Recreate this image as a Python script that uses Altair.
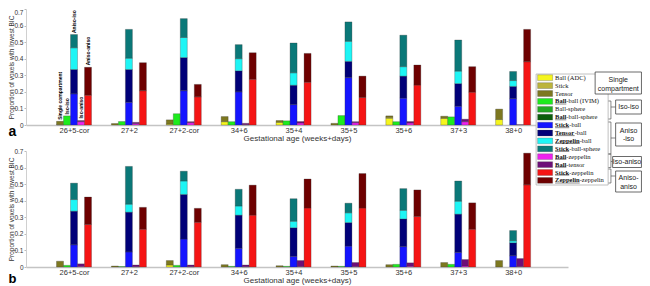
import altair as alt
import pandas as pd

# ---------------- data ----------------
ages = ["26+5-cor", "27+2", "27+2-cor", "34+6", "35+4", "35+5", "35+6", "37+3", "38+0"]

components = ["Ball (ADC)", "Stick", "Tensor",
              "Ball-ball (IVIM)", "Ball-sphere", "Ball-ball-sphere",
              "Stick-ball", "Tensor-ball", "Zeppelin-ball", "Stick-ball-sphere",
              "Ball-zeppelin", "Ball-tensor",
              "Stick-zeppelin", "Zeppelin-zeppelin"]
comp_colors = ["#f5f51e", "#bcb43c", "#7d7820",
               "#1eeb1e", "#22a822", "#0b5e0b",
               "#1414ff", "#000078", "#1ef5f5", "#0a7878",
               "#ee22ee", "#6e0f78",
               "#f51414", "#6e0000"]
slot_of = [0, 0, 0, 1, 1, 1, 2, 2, 2, 2, 3, 3, 4, 4]
bold_prefix = ["", "", "", "Ball", "", "Ball", "Stick", "Tensor", "Zeppelin", "Stick",
               "Ball", "Ball", "Stick", "Zeppelin"]
group_names = ["Single compartment", "Iso-iso", "Aniso-iso", "Iso-aniso", "Aniso-aniso"]

vals_a = {
    "Ball (ADC)":        [0, 0, 0.005, 0.020, 0.016, 0, 0.041, 0.040, 0.033],
    "Stick":             [0.002, 0, 0, 0, 0, 0, 0.006, 0, 0],
    "Tensor":            [0.020, 0.009, 0.026, 0.031, 0.011, 0.010, 0.008, 0.013, 0.063],
    "Ball-ball (IVIM)":  [0.055, 0.021, 0.068, 0.020, 0.025, 0.057, 0.020, 0.049, 0],
    "Ball-sphere":       [0, 0, 0, 0, 0, 0, 0, 0, 0],
    "Ball-ball-sphere":  [0, 0, 0, 0, 0, 0, 0, 0, 0],
    "Stick-ball":        [0.188, 0.137, 0.207, 0.200, 0.123, 0.286, 0.162, 0.113, 0.159],
    "Tensor-ball":       [0.147, 0.198, 0.200, 0.127, 0.117, 0.098, 0.133, 0.137, 0.074],
    "Zeppelin-ball":     [0.131, 0.068, 0.121, 0.073, 0.075, 0.121, 0.057, 0.075, 0.035],
    "Stick-ball-sphere": [0.080, 0.174, 0.114, 0.085, 0.180, 0.117, 0.190, 0.188, 0.055],
    "Ball-zeppelin":     [0.020, 0.008, 0.014, 0.002, 0.012, 0.014, 0.012, 0.020, 0],
    "Ball-tensor":       [0.007, 0.008, 0.006, 0.008, 0.009, 0.006, 0.009, 0.015, 0.002],
    "Stick-zeppelin":    [0.180, 0.207, 0.170, 0.276, 0.258, 0.166, 0.241, 0.198, 0.382],
    "Zeppelin-zeppelin": [0.168, 0.169, 0.075, 0.160, 0.174, 0.129, 0.121, 0.154, 0.195],
}
vals_b = {
    "Ball (ADC)":        [0, 0, 0.012, 0, 0, 0, 0, 0, 0],
    "Stick":             [0, 0, 0, 0, 0, 0, 0, 0, 0],
    "Tensor":            [0.035, 0.006, 0.027, 0.014, 0.008, 0.006, 0.014, 0.027, 0.039],
    "Ball-ball (IVIM)":  [0.010, 0.003, 0.010, 0.004, 0.004, 0.004, 0.016, 0.016, 0],
    "Ball-sphere":       [0, 0, 0, 0, 0, 0, 0, 0, 0],
    "Ball-ball-sphere":  [0, 0, 0, 0, 0, 0, 0, 0, 0],
    "Stick-ball":        [0.134, 0.091, 0.169, 0.113, 0.064, 0.126, 0.123, 0.088, 0.068],
    "Tensor-ball":       [0.203, 0.240, 0.269, 0.200, 0.173, 0.142, 0.167, 0.231, 0.078],
    "Zeppelin-ball":     [0.070, 0.048, 0.081, 0.055, 0.039, 0.059, 0.052, 0.078, 0.012],
    "Stick-ball-sphere": [0.099, 0.228, 0.059, 0.101, 0.136, 0.058, 0.131, 0.122, 0.062],
    "Ball-zeppelin":     [0.004, 0.002, 0.002, 0.002, 0.003, 0.003, 0.005, 0.006, 0.003],
    "Ball-tensor":       [0.015, 0.010, 0.010, 0.010, 0.036, 0.024, 0.020, 0.039, 0.048],
    "Stick-zeppelin":    [0.257, 0.228, 0.270, 0.313, 0.356, 0.356, 0.305, 0.228, 0.496],
    "Zeppelin-zeppelin": [0.165, 0.132, 0.084, 0.181, 0.175, 0.208, 0.160, 0.159, 0.191],
}

# ---------------- layout ----------------
L = 26                      # page x of the plot's left edge
REF_G1, REF_UNIT = 74.0, 54.875
XMAX, YMAX = 10.0, 0.7
unit = REF_UNIT
XMIN = 1 - (REF_G1 - L) / unit
W = int(round((XMAX - XMIN) * unit))
TOP = 8
H = 116
SPACING = 26
BW = 7.0 / unit
TOPB = TOP + H + SPACING


def xd(p):
    return XMIN + (p - L) / unit


def yd(p, top=TOP):
    return YMAX * (1 - (p - top) / H)


xs = alt.Scale(domain=[XMIN, XMAX], nice=False, zero=False)
ys = alt.Scale(domain=[0, YMAX], nice=False, zero=True)
label_js = "[" + ",".join("'%s'" % a for a in [""] + ages) + "][datum.value]"
xaxis = alt.Axis(values=list(range(1, 10)), labelExpr=label_js,
                 title="Gestational age (weeks+days)", grid=False, ticks=False,
                 domainColor="#c4c4c4", domainWidth=1.5, labelFontSize=7.5,
                 labelColor="#333", labelPadding=1.5, titleFontSize=8,
                 titleFontWeight="normal", titleColor="#333", titlePadding=0,
                 labelFont="Liberation Sans", titleFont="Liberation Sans")


def yaxis(flush_top):
    kw = {}
    if flush_top:
        kw["labelBaseline"] = {"condition": {"test": "datum.value > 0.65", "value": "top"},
                               "value": "middle"}
    return alt.Axis(values=[0, 0.1, 0.2, 0.3, 0.4, 0.5, 0.6, 0.7],
                    labelExpr="datum.value == 0 ? '0' : format(datum.value, '.1f')",
                    title="Proportion of voxels with lowest BIC", grid=False,
                    tickSize=2, tickColor="#bbb", domainColor="#d0d0d0",
                    labelFontSize=6.5, labelColor="#333", labelPadding=1,
                    titleFontSize=6.5, titleFontWeight="normal", titleColor="#333",
                    titleX=11.6 - L, titleBaseline="middle",
                    labelFont="Liberation Sans", titleFont="Liberation Sans", **kw)


color_enc = alt.Color("comp:N", scale=alt.Scale(domain=components, range=comp_colors),
                      legend=None)


def X(f, flush):
    return alt.X(f + ":Q", scale=xs, axis=xaxis)


def Y(f, flush):
    return alt.Y(f + ":Q", scale=ys, axis=yaxis(flush))


def bar_frame(vals):
    rows = []
    for gi in range(len(ages)):
        cum = [0.0] * 5
        for ci, comp in enumerate(components):
            v = vals[comp][gi]
            s = slot_of[ci]
            if v > 0:
                c = gi + 1 + (s - 2) * BW
                rows.append({"comp": comp, "x0": c - BW / 2, "x1": c + BW / 2,
                             "y0": cum[s], "y1": cum[s] + v})
            cum[s] += v
    return pd.DataFrame(rows)


def bars(vals, flush):
    return alt.Chart(bar_frame(vals)).mark_bar(
        stroke="#333", strokeWidth=0.4, strokeOpacity=0.7).encode(
        x=X("x0", flush), x2="x1", y=Y("y0", flush), y2="y1", color=color_enc)


def text_layer(df, flush, **mk):
    return alt.Chart(df).mark_text(**mk).encode(
        x=X("x0", flush), y=Y("y0", flush), text="t:N")


def rect_layer(df, flush, **mk):
    return alt.Chart(df).mark_rect(**mk).encode(
        x=X("x0", flush), x2="x1", y=Y("y0", flush), y2="y1")


def rule_layer(df, flush, **mk):
    return alt.Chart(df).mark_rule(**mk).encode(
        x=X("x0", flush), x2="x1", y=Y("y0", flush), y2="y1")


# ---------- annotations in panel a ----------
tops = [0.0] * 5
for ci, comp in enumerate(components):
    tops[slot_of[ci]] += vals_a[comp][0]
gap_px = [1.5, 1.5, 1.5, 2, 2]
annot = pd.DataFrame({"x0": [1 + (s - 2) * BW for s in range(5)],
                      "y0": [tops[s] + gap_px[s] * YMAX / H for s in range(5)],
                      "t": group_names})

# ---------- custom legend (panel a) ----------
FS_LEG = 6.5
TNR_BOLD = {"B": .667, "a": .5, "l": .278, "S": .556, "t": .333, "i": .278, "c": .444,
            "k": .556, "T": .667, "e": .444, "n": .556, "s": .389, "o": .5, "r": .444,
            "Z": .667, "p": .556}


def bold_w(s):
    return sum(TNR_BOLD.get(ch, .5) for ch in s) * FS_LEG


ENTRY_Y0, ENTRY_DY = 76.7, 7.9
TXT_X = 555
frame = pd.DataFrame({"x0": [xd(536)], "x1": [xd(608)], "y0": [yd(73)], "y1": [yd(184)]})
sw_rows, plain_rows, bold_rows, ul_rows = [], [], [], []
for i, comp in enumerate(components):
    yc = ENTRY_Y0 + ENTRY_DY * i
    sw_rows.append({"comp": comp, "x0": xd(537.5), "x1": xd(552.5),
                    "y0": yd(yc - 2.9), "y1": yd(yc + 2.9)})
    pre = bold_prefix[i]
    if pre:
        bw = bold_w(pre)
        bold_rows.append({"x0": xd(TXT_X), "y0": yd(yc), "t": pre})
        plain_rows.append({"x0": xd(TXT_X + bw), "y0": yd(yc), "t": comp[len(pre):]})
        ul_rows.append({"x0": xd(TXT_X), "x1": xd(TXT_X + bw),
                        "y0": yd(yc + 2.6), "y1": yd(yc + 2.6)})
    else:
        plain_rows.append({"x0": xd(TXT_X), "y0": yd(yc), "t": comp})
swatches = pd.DataFrame(sw_rows)

RB = 641.3
boxes_px = [(595, RB, 71, 93), (615.5, RB, 99, 113), (615.5, RB, 122, 145),
            (612.5, RB, 155.5, 166.5), (615.5, RB, 170, 191)]
box_lines = [[("Single", 79), ("compartment", 88)], [("Iso-iso", 106)],
             [("Aniso", 130), ("-iso", 138)], [("Iso-aniso", 161)],
             [("Aniso-", 177), ("aniso", 185.5)]]
boxes = pd.DataFrame([{"x0": xd(a), "x1": xd(b), "y0": yd(c), "y1": yd(d)}
                      for a, b, c, d in boxes_px])
box_txt = pd.DataFrame([{"x0": xd((boxes_px[k][0] + boxes_px[k][1]) / 2), "y0": yd(yy), "t": t}
                        for k in range(5) for t, yy in box_lines[k]])

brackets_px = [(100, 118, 106), (121, 153, 137), (153, 166.5, 160.5), (168, 182, 175)]
seg = []
for k, (y0, y1, ym) in enumerate(brackets_px):
    bx = 610.8
    xr = boxes_px[k + 1][0]
    seg += [(bx, bx, y0, y1), (608.3, bx, y0, y0), (608.3, bx, y1, y1), (bx, xr, ym, ym)]
brackets = pd.DataFrame([{"x0": xd(a), "x1": xd(b), "y0": yd(c), "y1": yd(d)}
                         for a, b, c, d in seg])

letter_a = pd.DataFrame({"x0": [xd(8.5)], "y0": [yd(131)], "t": ["a"]})
letter_b = pd.DataFrame({"x0": [xd(8.5)], "y0": [yd(277.5, TOPB)], "t": ["b"]})

panel_a = alt.layer(
    bars(vals_a, True),
    text_layer(annot, True, angle=270, align="left", baseline="middle", fontSize=5,
               fontWeight="bold", font="Liberation Sans", color="black"),
    rect_layer(frame, True, fill="white", stroke="#b0b0b0", strokeWidth=0.8),
    alt.Chart(swatches).mark_rect(stroke="#444", strokeWidth=0.3).encode(
        x=X("x0", True), x2="x1", y=Y("y0", True), y2="y1", color=color_enc),
    text_layer(pd.DataFrame(plain_rows), True, align="left", baseline="middle",
               fontSize=FS_LEG, font="Liberation Serif", color="#111"),
    text_layer(pd.DataFrame(bold_rows), True, align="left", baseline="middle",
               fontSize=FS_LEG, font="Liberation Serif", fontWeight="bold", color="#111"),
    rule_layer(pd.DataFrame(ul_rows), True, color="#111", strokeWidth=0.5),
    rule_layer(brackets, True, color="#555", strokeWidth=0.7),
    rect_layer(boxes, True, fill="white", stroke="#444", strokeWidth=0.8),
    text_layer(box_txt, True, align="center", baseline="middle", fontSize=7,
               font="Liberation Sans", color="#222"),
    text_layer(letter_a, True, align="left", baseline="middle", fontSize=14,
               fontWeight="bold", font="Liberation Sans", color="black"),
).properties(width=W, height=H)

panel_b = alt.layer(
    bars(vals_b, False),
    alt.Chart(letter_b).mark_text(align="left", baseline="middle", fontSize=13,
                                  fontWeight="bold", font="Liberation Sans",
                                  color="black").encode(
        x=X("x0", False), y=alt.Y("y0:Q", scale=ys, axis=yaxis(False)), text="t:N"),
).properties(width=W, height=H)

chart = alt.vconcat(panel_a, panel_b, spacing=SPACING, bounds="flush").configure_view(
    stroke=None).properties(padding=0, background="white")

chart.save("out.html", embed_options={"renderer": "svg", "actions": False})
